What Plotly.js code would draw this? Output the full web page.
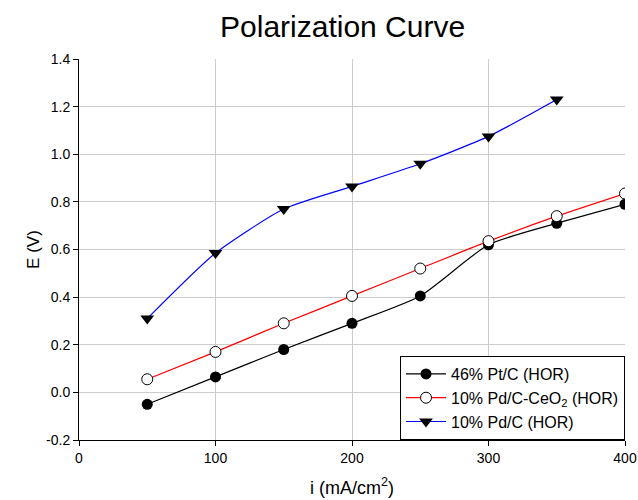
<!DOCTYPE html>
<html>
<head>
<meta charset="utf-8">
<script src="https://cdn.plot.ly/plotly-3.0.1.min.js"></script>
<style>html,body{margin:0;padding:0;background:#fff;}</style>
</head>
<body>
<div id="chart" style="width:638px;height:500px;"></div>
<script>
const currents = [50, 100, 150, 200, 250, 300, 350, 400];
const ptC = [-0.05, 0.065, 0.18, 0.29, 0.405, 0.62, 0.71, 0.79];
const pdCeO2 = [0.055, 0.17, 0.29, 0.405, 0.52, 0.635, 0.74, 0.835];
const currentsPdC = [50, 100, 150, 200, 250, 300, 350];
const pdC = [0.31, 0.585, 0.77, 0.865, 0.96, 1.075, 1.23];
const seriesNames = ['46% Pt/C (HOR)', '10% Pd/C-CeO<sub>2</sub> (HOR)', '10% Pd/C (HOR)'];
const yTickVals = [-0.2, 0.0, 0.2, 0.4, 0.6, 0.8, 1.0, 1.2, 1.4];
const yTickText = ['-0.2', '0.0', '0.2', '0.4', '0.6', '0.8', '1.0', '1.2', '1.4'];
const xTickVals = [0, 100, 200, 300, 400];

const traces = [
  {x: currents, y: ptC, name: seriesNames[0], mode: 'lines+markers',
   line: {color: '#000000', width: 1.2, shape: 'spline', smoothing: 0.6},
   marker: {symbol: 'circle', size: 11, color: '#000000'}},
  {x: currents, y: pdCeO2, name: seriesNames[1], mode: 'lines+markers',
   line: {color: '#ff0000', width: 1.2, shape: 'spline', smoothing: 0.6},
   marker: {symbol: 'circle', size: 11, color: '#ffffff', line: {color: '#000000', width: 1}}},
  {x: currentsPdC, y: pdC, name: seriesNames[2], mode: 'lines+markers',
   line: {color: '#0000ff', width: 1.2, shape: 'spline', smoothing: 0.6},
   marker: {symbol: 'triangle-down', size: 12, color: '#000000'}}
];

const layout = {
  width: 638, height: 500,
  margin: {l: 79, r: 13, t: 59, b: 60},
  paper_bgcolor: '#ffffff', plot_bgcolor: '#ffffff',
  font: {family: 'Arial, Liberation Sans, sans-serif', color: '#000000', size: 14},
  title: {text: 'Polarization Curve', font: {size: 30, color: '#000000'}, xref: 'container', x: 0.537, xanchor: 'center', y: 0.947, yanchor: 'middle'},
  xaxis: {range: [0, 400], tickvals: xTickVals, showgrid: true, gridcolor: '#cccccc', gridwidth: 1,
          showline: true, linecolor: '#000000', linewidth: 1, ticks: 'outside', ticklen: 5, tickcolor: '#000000',
          zeroline: false, tickfont: {size: 14},
          title: {text: 'i (mA/cm<sup>2</sup>)', font: {size: 18}, standoff: 16}},
  yaxis: {range: [-0.2, 1.4], tickvals: yTickVals, ticktext: yTickText, showgrid: true, gridcolor: '#cccccc', gridwidth: 1,
          showline: true, linecolor: '#000000', linewidth: 1, ticks: 'outside', ticklen: 5, tickcolor: '#000000',
          zeroline: false, tickfont: {size: 14},
          title: {text: 'E (V)', font: {size: 17}, standoff: 2}},
  legend: {x: 1, xanchor: 'right', y: 0, yanchor: 'bottom', bgcolor: '#ffffff',
           bordercolor: '#000000', borderwidth: 1, font: {size: 16}, tracegroupgap: 0, itemwidth: 40},
  showlegend: true
};

Plotly.newPlot('chart', traces, layout, {displayModeBar: false, staticPlot: true});
</script>
</body>
</html>
